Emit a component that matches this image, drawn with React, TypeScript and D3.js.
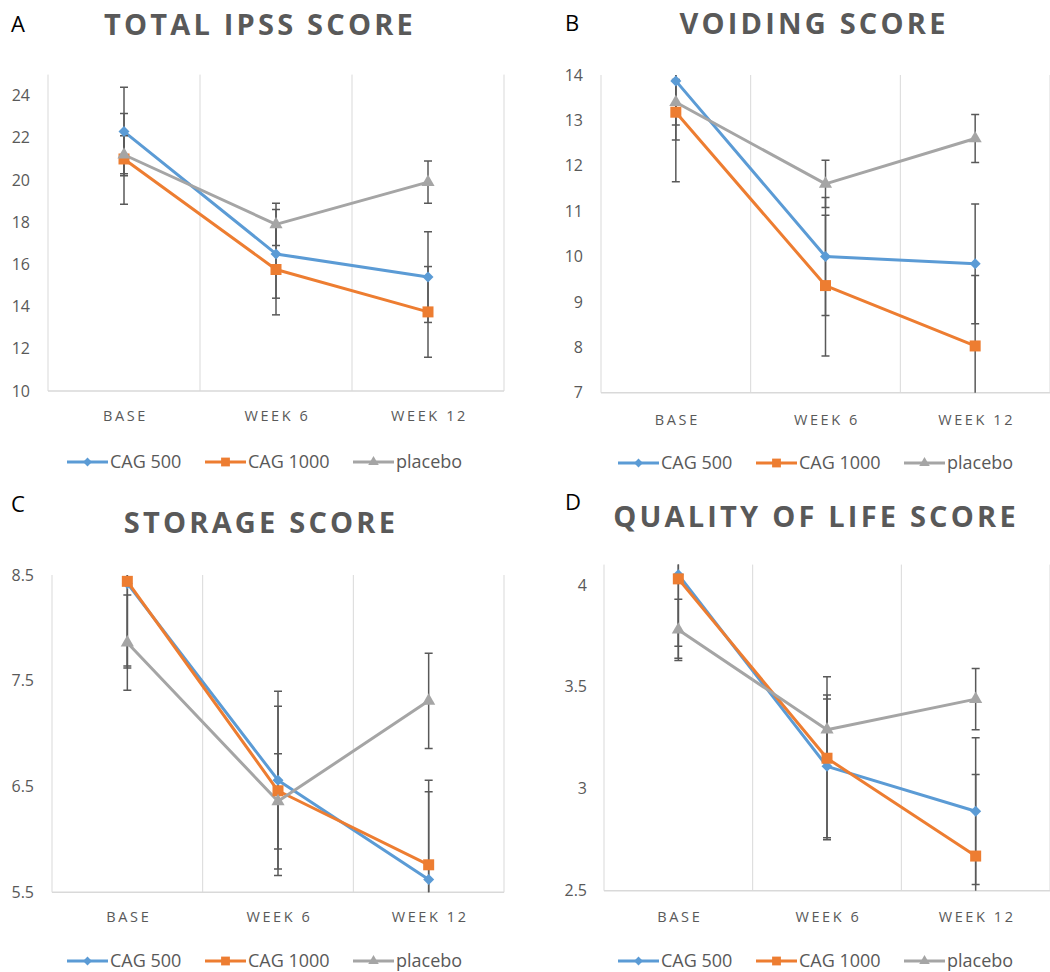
import * as d3 from 'd3';

const categories = ['BASE', 'WEEK 6', 'WEEK 12'];
const seriesNames = ['CAG 500', 'CAG 1000', 'placebo'];
const seriesColors = ['#5b9bd5', '#ed7d31', '#a5a5a5'];
const seriesShapes = ['diamond', 'square', 'triangle'];

// A: total IPSS
const ipss500 = [22.3, 16.5, 15.4];
const ipss500Err = [2.1, 2.1, 2.15];
const ipss1000 = [21.0, 15.76, 13.75];
const ipss1000Err = [2.15, 2.15, 2.15];
const ipssPlacebo = [21.2, 17.9, 19.9];
const ipssPlaceboErr = [0.9, 1.0, 1.0];

// B: voiding
const void500 = [13.87, 10.0, 9.84];
const void500Err = [1.3, 1.3, 1.32];
const void1000 = [13.18, 9.36, 8.03];
const void1000Err = [1.53, 1.55, 1.55];
const voidPlacebo = [13.4, 11.6, 12.6];
const voidPlaceboErr = [0.5, 0.52, 0.53];

// C: storage
const stor500 = [8.42, 6.56, 5.62];
const stor500Err = [0.8, 0.84, 0.83];
const stor1000 = [8.44, 6.46, 5.76];
const stor1000Err = [0.8, 0.8, 0.8];
const storPlacebo = [7.86, 6.36, 7.31];
const storPlaceboErr = [0.45, 0.45, 0.45];

// D: quality of life
const qol500 = [4.05, 3.11, 2.89];
const qol500Err = [0.41, 0.35, 0.36];
const qol1000 = [4.03, 3.15, 2.67];
const qol1000Err = [0.33, 0.4, 0.4];
const qolPlacebo = [3.78, 3.29, 3.44];
const qolPlaceboErr = [0.15, 0.15, 0.15];

const ipssTicks = [10, 12, 14, 16, 18, 20, 22, 24];
const voidTicks = [7, 8, 9, 10, 11, 12, 13, 14];
const storTicks = [5.5, 6.5, 7.5, 8.5];
const qolTicks = [2.5, 3, 3.5, 4];

const panels = [
  {
    id: 'a', letter: 'A', title: 'TOTAL IPSS SCORE',
    means: [ipss500, ipss1000, ipssPlacebo], errs: [ipss500Err, ipss1000Err, ipssPlaceboErr],
    domain: [10, 25], ticks: ipssTicks,
    left: 48, right: 504, top: 74.6, bottom: 391,
    titleX: 260, titleY: 35, letterX: 11, letterY: 32, tickX: 30, catY: 421, legendX: 67, legendY: 462,
  },
  {
    id: 'b', letter: 'B', title: 'VOIDING SCORE',
    means: [void500, void1000, voidPlacebo], errs: [void500Err, void1000Err, voidPlaceboErr],
    domain: [7, 14], ticks: voidTicks,
    left: 601, right: 1050, top: 75, bottom: 392.7,
    titleX: 814, titleY: 34, letterX: 565, letterY: 31, tickX: 583, catY: 425, legendX: 618, legendY: 463,
  },
  {
    id: 'c', letter: 'C', title: 'STORAGE SCORE',
    means: [stor500, stor1000, storPlacebo], errs: [stor500Err, stor1000Err, storPlaceboErr],
    domain: [5.5, 8.5], ticks: storTicks,
    left: 52, right: 504, top: 575, bottom: 892.3,
    titleX: 261, titleY: 533, letterX: 11, letterY: 512, tickX: 34, catY: 922, legendX: 67, legendY: 961,
  },
  {
    id: 'd', letter: 'D', title: 'QUALITY OF LIFE SCORE',
    means: [qol500, qol1000, qolPlacebo], errs: [qol500Err, qol1000Err, qolPlaceboErr],
    domain: [2.5, 4.1], ticks: qolTicks,
    left: 604, right: 1050, top: 564.6, bottom: 890.7,
    titleX: 816, titleY: 527, letterX: 565, letterY: 510, tickX: 587, catY: 922, legendX: 618, legendY: 961,
  },
];

const FONT = '"Open Sans", "Noto Sans", sans-serif';
const TEXT = '#595959';
const GRID = '#d9d9d9';
const ERR = '#595959';

function markerPath(shape: string) {
  if (shape === 'diamond') return 'M0,-5.5L5.5,0L0,5.5L-5.5,0Z';
  if (shape === 'square') return d3.symbol(d3.symbolSquare, 121)()!;
  return d3.symbol(d3.symbolTriangle, 75)()!;
}

function Panel({ p }: { p: any }) {
  const x = d3.scaleBand().domain(categories).range([p.left, p.right]).paddingInner(0).paddingOuter(0);
  const y = d3.scaleLinear().domain(p.domain).range([p.bottom, p.top]);
  const cx = (c: string) => (x(c) as number) + x.bandwidth() / 2;
  const bounds = categories.map(c => x(c) as number).concat([p.right]);
  const line = d3.line<number>().x((_, i) => cx(categories[i])).y(d => y(d));
  const cap = 4;

  return (
    <g>
      <defs>
        <clipPath id={`clip-${p.id}`}>
          <rect x={p.left} y={p.top} width={p.right - p.left} height={p.bottom - p.top} />
        </clipPath>
      </defs>
      <text x={p.letterX} y={p.letterY} fontFamily={FONT} fontSize={22} fill="#000">{p.letter}</text>
      <text x={p.titleX} y={p.titleY} textAnchor="middle" fontFamily={FONT} fontWeight="bold" fontSize={29}
        letterSpacing={3.2} fill={TEXT}>{p.title}</text>

      {bounds.map((b, i) => (
        <line key={i} x1={b} x2={b} y1={p.top} y2={p.bottom} stroke={GRID} strokeWidth={1} />
      ))}
      <line x1={p.left} x2={p.right} y1={p.bottom} y2={p.bottom} stroke={GRID} strokeWidth={1.5} />

      {p.ticks.map((t: number) => (
        <text key={t} x={p.tickX} y={y(t)} dy="0.35em" textAnchor="end" fontFamily={FONT} fontSize={16} fill={TEXT}>
          {t}
        </text>
      ))}
      {categories.map(c => (
        <text key={c} x={cx(c) + 1.5} y={p.catY} textAnchor="middle" fontFamily={FONT} fontSize={14.5}
          letterSpacing={2.6} fill={TEXT}>{c}</text>
      ))}

      {p.means.map((m: number[], s: number) => (
        <path key={s} d={line(m)!} fill="none" stroke={seriesColors[s]} strokeWidth={3} strokeLinejoin="round" />
      ))}

      <g clipPath={`url(#clip-${p.id})`}>
        {p.means.map((m: number[], s: number) =>
          m.map((v, i) => {
            const xx = cx(categories[i]);
            const hi = y(v + p.errs[s][i]);
            const lo = y(v - p.errs[s][i]);
            return (
              <g key={`${s}-${i}`} stroke={ERR} strokeWidth={1.5}>
                <line x1={xx} x2={xx} y1={hi} y2={lo} />
                <line x1={xx - cap} x2={xx + cap} y1={hi} y2={hi} />
                <line x1={xx - cap} x2={xx + cap} y1={lo} y2={lo} />
              </g>
            );
          })
        )}
      </g>

      {p.means.map((m: number[], s: number) =>
        m.map((v, i) => (
          <path key={`${s}-${i}`} d={markerPath(seriesShapes[s])}
            transform={`translate(${cx(categories[i])},${y(v)})`} fill={seriesColors[s]} />
        ))
      )}

      <g transform={`translate(${p.legendX},${p.legendY})`}>
        {seriesNames.map((n, s) => {
          const off = [0, 138, 286][s];
          return (
            <g key={n} transform={`translate(${off},0)`}>
              <line x1={0} x2={41} y1={0} y2={0} stroke={seriesColors[s]} strokeWidth={3} />
              <path d={markerPath(seriesShapes[s])} transform="translate(20.5,0) scale(0.8)" fill={seriesColors[s]} />
              <text x={43} y={0} dy="0.35em" fontFamily={FONT} fontSize={18} fill={TEXT}>{n}</text>
            </g>
          );
        })}
      </g>
    </g>
  );
}

export default function App() {
  return (
    <svg width={1050} height={972} style={{ position: 'absolute', left: 0, top: 0, background: '#fff' }}>
      <rect width={1050} height={972} fill="#fff" />
      {panels.map(p => <Panel key={p.id} p={p} />)}
    </svg>
  );
}
